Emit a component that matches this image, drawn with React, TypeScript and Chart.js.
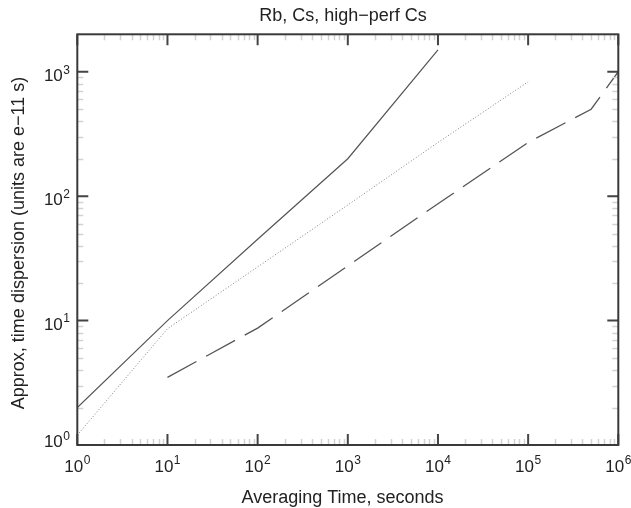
import React, { useEffect, useRef } from "react";
import { Chart, registerables } from "chart.js";

Chart.register(...registerables);

// ---- data ----
const rbTimes = [1, 10, 100, 1000, 10000];
const rbValues = [2, 10, 45, 200, 1500];

const csTimes = [1, 10, 100, 1000, 10000, 100000];
const csValues = [1.2, 8.6, 27, 85, 270, 830];

const hpCsTimes = [10, 100, 1000, 10000, 100000, 500000, 1000000];
const hpCsValues = [3.5, 8.7, 27.5, 87, 270, 500, 1000];

const xTickExponents = [0, 1, 2, 3, 4, 5, 6];
const yTickExponents = [0, 1, 2, 3];

const titleText = "Rb, Cs, high\u2212perf Cs";
const xAxisTitle = "Averaging Time, seconds";
const yAxisTitle = "Approx, time dispersion (units are e\u221211 s)";

const X_MIN = 1;
const X_MAX = 1e6;
const Y_MIN = 1;
const Y_MAX = 2000;

const FONT = '"Liberation Sans", Arial, Helvetica, sans-serif';

const toPoints = (xs: number[], ys: number[]) => xs.map((x, i) => ({ x, y: ys[i] }));

const framePlugin = {
  id: "frameAndLabels",
  afterDraw(chart: any) {
    const { ctx, chartArea: a, scales } = chart;
    const xs = scales.x;
    const ys = scales.y;
    ctx.save();

    // minor ticks
    ctx.strokeStyle = "#d2d2d2";
    ctx.lineWidth = 1.5;
    ctx.beginPath();
    for (let k = 0; k < 6; k++) {
      for (let m = 2; m <= 9; m++) {
        const v = m * Math.pow(10, k);
        if (v > X_MAX) continue;
        const px = Math.round(xs.getPixelForValue(v)) + 0.5;
        ctx.moveTo(px, a.bottom);
        ctx.lineTo(px, a.bottom - 6);
        ctx.moveTo(px, a.top);
        ctx.lineTo(px, a.top + 6);
      }
    }
    for (let k = 0; k < 4; k++) {
      for (let m = 2; m <= 9; m++) {
        const v = m * Math.pow(10, k);
        if (v >= Y_MAX) continue;
        const py = Math.round(ys.getPixelForValue(v)) + 0.5;
        ctx.moveTo(a.left, py);
        ctx.lineTo(a.left + 6, py);
        ctx.moveTo(a.right, py);
        ctx.lineTo(a.right - 6, py);
      }
    }
    ctx.stroke();

    // major ticks
    ctx.strokeStyle = "#444";
    ctx.lineWidth = 2;
    ctx.beginPath();
    xTickExponents.forEach((e) => {
      const px = xs.getPixelForValue(Math.pow(10, e));
      ctx.moveTo(px, a.bottom);
      ctx.lineTo(px, a.bottom - 11);
      ctx.moveTo(px, a.top);
      ctx.lineTo(px, a.top + 11);
    });
    yTickExponents.forEach((e) => {
      const py = ys.getPixelForValue(Math.pow(10, e));
      ctx.moveTo(a.left, py);
      ctx.lineTo(a.left + 11, py);
      ctx.moveTo(a.right, py);
      ctx.lineTo(a.right - 11, py);
    });
    ctx.stroke();

    // frame
    ctx.strokeStyle = "#3a3a3a";
    ctx.lineWidth = 2;
    ctx.strokeRect(a.left, a.top, a.right - a.left, a.bottom - a.top);

    // tick labels
    ctx.fillStyle = "#222";
    const baseFont = `17px ${FONT}`;
    const supFont = `12px ${FONT}`;
    const drawPow = (x: number, baseline: number, e: number, align: "center" | "right") => {
      ctx.font = baseFont;
      const w10 = ctx.measureText("10").width;
      ctx.font = supFont;
      const wE = ctx.measureText(String(e)).width;
      const total = w10 + wE + 0.5;
      const start = align === "center" ? x - total / 2 : x - total;
      ctx.textAlign = "left";
      ctx.textBaseline = "alphabetic";
      ctx.font = baseFont;
      ctx.fillText("10", start, baseline);
      ctx.font = supFont;
      ctx.fillText(String(e), start + w10 + 0.5, baseline - 7.5);
    };
    xTickExponents.forEach((e) => {
      const px = xs.getPixelForValue(Math.pow(10, e));
      drawPow(px, 471.5, e, "center");
    });
    yTickExponents.forEach((e) => {
      const py = ys.getPixelForValue(Math.pow(10, e));
      drawPow(70, Math.min(py + 9.3, 447.3), e, "right");
    });

    // titles
    ctx.font = `18px ${FONT}`;
    ctx.textAlign = "center";
    ctx.textBaseline = "alphabetic";
    ctx.fillText(titleText, 343, 20.7);
    ctx.fillText(xAxisTitle, 342.5, 503);
    ctx.save();
    ctx.translate(24, 243);
    ctx.rotate(-Math.PI / 2);
    ctx.fillText(yAxisTitle, 0, 0);
    ctx.restore();

    ctx.restore();
  },
};

export default function App() {
  const canvasRef = useRef<HTMLCanvasElement | null>(null);

  useEffect(() => {
    if (!canvasRef.current) return;
    const hidden = {
      ticks: { display: false },
      grid: { display: false },
      border: { display: false },
      title: { display: false },
    };
    const chart = new Chart(canvasRef.current, {
      type: "line",
      data: {
        datasets: [
          {
            label: "Rb",
            data: toPoints(rbTimes, rbValues),
            borderColor: "#555555",
            borderWidth: 1.2,
            pointRadius: 0,
            tension: 0,
            fill: false,
          },
          {
            label: "Cs",
            data: toPoints(csTimes, csValues),
            borderColor: "#808080",
            borderWidth: 1,
            borderDash: [1, 2],
            pointRadius: 0,
            tension: 0,
            fill: false,
          },
          {
            label: "high-perf Cs",
            data: toPoints(hpCsTimes, hpCsValues),
            borderColor: "#555555",
            borderWidth: 1.3,
            borderDash: [33, 11],
            pointRadius: 0,
            tension: 0,
            fill: false,
          },
        ],
      },
      options: {
        animation: false,
        responsive: false,
        parsing: true,
        layout: { padding: { left: 77.3, top: 34.3, right: 12.7, bottom: 63 } },
        plugins: {
          legend: { display: false },
          title: { display: false },
          tooltip: { enabled: false },
        },
        scales: {
          x: {
            type: "logarithmic",
            min: X_MIN,
            max: X_MAX,
            ...hidden,
            afterFit: (s: any) => {
              s.height = 0;
            },
          },
          y: {
            type: "logarithmic",
            min: Y_MIN,
            max: Y_MAX,
            ...hidden,
            afterFit: (s: any) => {
              s.width = 0;
            },
          },
        },
      },
      plugins: [framePlugin],
    } as any);
    return () => chart.destroy();
  }, []);

  return (
    <div style={{ position: "fixed", left: 0, top: 0, width: 631, height: 508, background: "#fff" }}>
      <canvas ref={canvasRef} width={631} height={508} style={{ display: "block" }} />
    </div>
  );
}
